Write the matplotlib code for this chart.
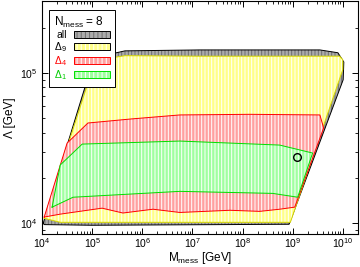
import numpy as np
import matplotlib
matplotlib.use('Agg')
import matplotlib.pyplot as plt
from matplotlib.patches import Patch
from matplotlib.legend_handler import HandlerTuple
from matplotlib.ticker import FixedLocator, NullFormatter

plt.rcParams.update({
    'font.family': ['Liberation Sans', 'DejaVu Sans'],
    'mathtext.fontset': 'custom',
    'mathtext.rm': 'Liberation Sans',
    'mathtext.it': 'Liberation Sans:italic',
    'font.size': 7.5,
    'hatch.linewidth': 0.7,
})

# region outlines (M_mess, Lambda) in GeV
all_m = [1.05e4, 8.2e4, 1.43e5, 2.5e5, 4.5e5, 1.4e7, 3.5e9, 8e9, 1.05e10, 1.02e10, 8.5e8, 1e5, 1.1e4]
all_lam = [1.0e4, 9.3e4, 1.22e5, 1.34e5, 1.40e5, 1.42e5, 1.42e5, 1.36e5, 1.18e5, 9.0e4, 9.85e3, 9.7e3, 9.8e3]

d9_m = [1.1e4, 9.0e4, 1.43e5, 2.5e5, 4.5e5, 1.4e7, 8.7e9, 1.0e10, 1.0e10, 9.0e8, 1.4e7, 2.3e4]
d9_lam = [1.08e4, 9.4e4, 1.15e5, 1.26e5, 1.30e5, 1.29e5, 1.29e5, 1.22e5, 1.05e5, 1.015e4, 1.015e4, 1.015e4]

d4_m = [1.1e4, 3.15e4, 8.2e4, 5.7e5, 5.6e6, 1.4e8, 3.5e9, 4.15e9, 1.1e9, 5.5e8, 2.2e8,
        5.6e7, 5.6e6, 1.63e6, 4.1e5, 1.57e5, 2.3e4]
d4_lam = [1.1e4, 3.41e4, 4.64e4, 4.93e4, 5.25e4, 5.3e4, 5.25e4, 4.3e4, 1.28e4, 1.24e4, 1.2e4,
          1.22e4, 1.18e4, 1.24e4, 1.17e4, 1.26e4, 1.15e4]

d1_m = [1.58e4, 2.3e4, 6.3e4, 5.6e6, 5.5e8, 2.5e9, 1.26e9, 4.0e8, 5.6e6, 4.15e4]
d1_lam = [1.28e4, 2.44e4, 3.36e4, 3.52e4, 3.31e4, 2.93e4, 1.49e4, 1.58e4, 1.63e4, 1.49e4]

point_m = [1.2e9]
point_lam = [2.75e4]

regions = [
    ('all', all_m, all_lam, '#ababab', '#6e6e6e', 'black', 'black'),
    ('Δ$_9$', d9_m, d9_lam, '#ffff88', 'white', '#d8d800', 'black'),
    ('Δ$_4$', d4_m, d4_lam, '#ffa0a0', 'white', 'red', 'red'),
    ('Δ$_1$', d1_m, d1_lam, '#a0ffa0', 'white', '#00dd00', '#00cc00'),
]

XLIM = (1e4, 2e10)
YLIM = (8.5e3, 3.0e5)

fig = plt.figure(figsize=(3.6, 2.67), dpi=100)
ax = fig.add_axes([0.117, 0.124, 0.877, 0.872])
ax.set_xscale('log')
ax.set_yscale('log')

handles = []
for i, (lab, xs, ys, fc, hc, ec, tc) in enumerate(regions):
    z = 2 + i
    ax.fill(xs, ys, facecolor=fc, edgecolor='none', zorder=z)
    ax.fill(xs, ys, facecolor='none', edgecolor=hc, hatch='|||||', linewidth=0, zorder=z)
    ax.plot(xs + xs[:1], ys + ys[:1], color=ec, linewidth=0.7, zorder=z)
    sw_fill = Patch(facecolor=fc, edgecolor=hc, hatch='||||', linewidth=0)
    sw_edge = Patch(facecolor='none', edgecolor='black' if i < 2 else ec, linewidth=0.7)
    handles.append((sw_fill, sw_edge))

ax.plot(point_m, point_lam, 'o', mfc='none', mec='black', ms=5.5, mew=1.0, zorder=10)

ax.set_xlim(*XLIM)
ax.set_ylim(*YLIM)


def log_ticks(lo, hi):
    major = [10.0 ** k for k in range(-5, 15) if lo <= 10.0 ** k <= hi]
    minor = [s * 10.0 ** k for k in range(-5, 15) for s in range(2, 10)
             if lo <= s * 10.0 ** k <= hi]
    return major, minor


for axis, lims in ((ax.xaxis, XLIM), (ax.yaxis, YLIM)):
    major, minor = log_ticks(*lims)
    axis.set_major_locator(FixedLocator(major))
    axis.set_minor_locator(FixedLocator(minor))
    axis.set_minor_formatter(NullFormatter())
ax.tick_params(which='both', direction='in', top=True, right=True, labelsize=7.5)
ax.tick_params(axis='x', pad=2)
ax.tick_params(which='major', length=4.5, width=0.7)
ax.tick_params(which='minor', length=2.5, width=0.6)
for sp in ax.spines.values():
    sp.set_linewidth(0.8)

ax.set_xlabel('M$_{\\rm mess}$ [GeV]', fontsize=8.5, labelpad=0)
ax.set_ylabel('Λ [GeV]', fontsize=8.5, labelpad=3)

leg = ax.legend(handles, [r[0] for r in regions], title='N$_{\\rm mess}$ = 8',
                loc='upper left', bbox_to_anchor=(0.022, 0.961), borderaxespad=0,
                markerfirst=False, handlelength=3.4, handleheight=0.7, handletextpad=0.7,
                labelspacing=0.0, borderpad=0.5, fancybox=False, framealpha=1,
                edgecolor='black', fontsize=7.5, title_fontsize=8.5, alignment='left',
                handler_map={tuple: HandlerTuple(ndivide=1, pad=0)})
leg.get_frame().set_linewidth(0.7)
leg.set_zorder(20)
for t, r in zip(leg.get_texts(), regions):
    t.set_color(r[6])

fig.savefig('out.png', dpi=100)
